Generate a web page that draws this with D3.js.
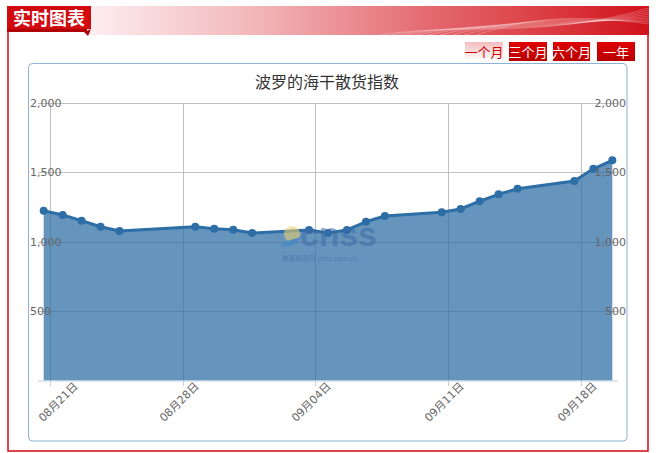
<!DOCTYPE html>
<html><head><meta charset="utf-8">
<script src="https://cdn.jsdelivr.net/npm/d3@7/dist/d3.min.js"></script>
<style>html,body{margin:0;padding:0;background:#fff;overflow:hidden;}svg{display:block;}</style>
</head><body>
<script>
// ---- data ----
const dates = ["2017-08-21","2017-08-22","2017-08-23","2017-08-24","2017-08-25",
  "2017-08-29","2017-08-30","2017-08-31","2017-09-01",
  "2017-09-04","2017-09-05","2017-09-06","2017-09-07","2017-09-08",
  "2017-09-11","2017-09-12","2017-09-13","2017-09-14","2017-09-15",
  "2017-09-18","2017-09-19","2017-09-20"];
const values = [1224,1193,1152,1108,1077,
  1108,1094,1086,1063,
  1085,1063,1085,1144,1186,
  1212,1236,1292,1342,1382,
  1438,1526,1587];
const yTicks = [500,1000,1500,2000];
const xTickDates = ["2017-08-21","2017-08-28","2017-09-04","2017-09-11","2017-09-18"];
const title = "波罗的海干散货指数";
const buttons = ["一个月","三个月","六个月","一年"];
const headerLabel = "实时图表";

const W = 656, H = 453;
const svg = d3.select("body").append("svg").attr("width", W).attr("height", H);
const defs = svg.append("defs");

// ---- header banner ----
const g1 = defs.append("linearGradient").attr("id","ban").attr("x1","0").attr("x2","1").attr("y1","0").attr("y2","0");
[["0%","#fdeef0"],["30%","#f2b6b9"],["60%","#e46c71"],["85%","#d9353b"],["100%","#d0121a"]].forEach(s=>g1.append("stop").attr("offset",s[0]).attr("stop-color",s[1]));
svg.append("rect").attr("x",88).attr("y",6).attr("width",561).attr("height",29).attr("fill","url(#ban)");
const curves = svg.append("g").attr("fill","none").attr("stroke","#fff").attr("stroke-opacity",0.35).attr("stroke-width",0.7);
for (let i=0;i<9;i++){
  curves.append("path").attr("d",`M${380+i*12},35 C${460+i*10},${22-i},${540+i*6},${40-i*3},${649},${8+i*2}`);
}
svg.append("rect").attr("x",7).attr("y",6).attr("width",84).attr("height",23).attr("fill","#d10a10");
svg.append("rect").attr("x",7).attr("y",29).attr("width",80).attr("height",3).attr("fill","#b00008");
svg.append("path").attr("d","M84,32 L91,29 L88,36 Z").attr("fill","#b00008");
svg.append("text").attr("x",49).attr("y",24.5).attr("text-anchor","middle")
  .attr("font-family","'Noto Sans CJK SC'").attr("font-weight","bold").attr("font-size",18)
  .attr("fill","#fff").text(headerLabel);
svg.append("path").attr("d","M8,32 V451 H648 V35").attr("fill","none").attr("stroke","#d10a10").attr("stroke-width",1.5);

// ---- buttons ----
const gb = defs.append("linearGradient").attr("id","btn0").attr("x1","0").attr("x2","0").attr("y1","0").attr("y2","1");
gb.append("stop").attr("offset","0%").attr("stop-color","#f4bcc0");
gb.append("stop").attr("offset","100%").attr("stop-color","#fff");
const gr = defs.append("linearGradient").attr("id","btn1").attr("x1","0").attr("x2","0").attr("y1","0").attr("y2","1");
gr.append("stop").attr("offset","0%").attr("stop-color","#e00000");
gr.append("stop").attr("offset","100%").attr("stop-color","#b80000");
const btnX = [465,509,553,597], btnW=[38,38,37,38];
buttons.forEach((b,i)=>{
  svg.append("rect").attr("x",btnX[i]).attr("y",42).attr("width",btnW[i]).attr("height",19)
    .attr("fill", i===0 ? "url(#btn0)" : "url(#btn1)");
  svg.append("text").attr("x",btnX[i]+btnW[i]/2).attr("y",56.5).attr("text-anchor","middle")
    .attr("font-family","'Noto Sans CJK SC'").attr("font-size",13)
    .attr("fill", i===0 ? "#d00000" : "#fff").text(b);
});

// ---- chart container ----
svg.append("rect").attr("x",28.5).attr("y",63.5).attr("width",598.5).attr("height",377.5).attr("rx",4)
  .attr("fill","#fff").attr("stroke","#8cb2d6").attr("stroke-width",1);
svg.append("text").attr("x",327).attr("y",88).attr("text-anchor","middle")
  .attr("font-family","'Noto Sans CJK SC'").attr("font-size",16).attr("fill","#333").text(title);

// ---- scales ----
const DAY = 86400000;
const parse = s => { const [y,m,d]=s.split("-").map(Number); return Date.UTC(y,m-1,d); };
const pts = dates.map((d,i)=>({t: parse(d) - 8*3600000, v: values[i]}));
const pad = 0.3*DAY;
const x = d3.scaleUtc().domain([d3.min(pts,p=>p.t)-pad, d3.max(pts,p=>p.t)+pad]).range([38,618]);
const y = d3.scaleLinear().domain([0,2000]).range([380.5,103]);
const plotL=38, plotR=618, plotT=103, plotB=380.5;

const font = "'DejaVu Sans','Noto Sans CJK SC'";
const grid = svg.append("g").attr("stroke","#c0c0c0").attr("stroke-width",1);
yTicks.forEach(v=>grid.append("line").attr("x1",plotL).attr("x2",plotR).attr("y1",Math.round(y(v))+0.5).attr("y2",Math.round(y(v))+0.5));
const xt = xTickDates.map(parse);
xt.forEach(t=>grid.append("line").attr("x1",Math.round(x(t))+0.5).attr("x2",Math.round(x(t))+0.5).attr("y1",plotT).attr("y2",plotB));

const area = d3.area().x(p=>x(p.t)).y0(y(0)).y1(p=>y(p.v));
const line = d3.line().x(p=>x(p.t)).y(p=>y(p.v));
svg.append("path").datum(pts).attr("d",area).attr("fill","#2c6ea5").attr("fill-opacity",0.73);
svg.append("path").datum(pts).attr("d",line).attr("fill","none").attr("stroke","#2c6ea5").attr("stroke-width",3).attr("stroke-linejoin","round");
svg.append("g").selectAll("circle").data(pts).join("circle")
  .attr("cx",p=>x(p.t)).attr("cy",p=>y(p.v)).attr("r",4).attr("fill","#2c6ea5");

svg.append("line").attr("x1",plotL).attr("x2",plotR).attr("y1",381).attr("y2",381).attr("stroke","#c0d0e0").attr("stroke-width",1);
const fmt = d3.utcFormat("%m月%d日");
xt.forEach((t,i)=>{
  const tx = Math.round(x(t))+0.5;
  svg.append("line").attr("x1",tx).attr("x2",tx).attr("y1",381).attr("y2",386).attr("stroke","#c0d0e0");
  const ax = tx + 16 + (i===0 ? 12 : 0), ay = 387;
  svg.append("text").attr("transform",`translate(${ax},${ay}) rotate(-45)`).attr("text-anchor","end")
    .attr("font-family",font).attr("font-size",11).attr("fill","#666").text(fmt(new Date(t)));
});
const yf = d3.format(",");
yTicks.forEach(v=>{
  svg.append("text").attr("x",30).attr("y",y(v)+4).attr("text-anchor","start")
    .attr("font-family",font).attr("font-size",11).attr("fill","#666").text(yf(v));
  svg.append("text").attr("x",626).attr("y",y(v)+4).attr("text-anchor","end")
    .attr("font-family",font).attr("font-size",11).attr("fill","#666").text(yf(v));
});

// watermark
const wm = svg.append("g").attr("opacity",0.55);
wm.append("circle").attr("cx",292).attr("cy",234).attr("r",8).attr("fill","#f3d36a");
wm.append("path").attr("d","M280,246 C288,238 296,240 302,236 C298,244 290,248 280,246 Z").attr("fill","#3d86c6");
wm.append("text").attr("x",300).attr("y",246).attr("font-family","'Liberation Sans'").attr("font-weight","bold")
  .attr("font-size",34).attr("textLength",77).attr("fill","#3f6aa6").text("cnss");
wm.append("text").attr("x",281).attr("y",261).attr("font-family","'Noto Sans CJK SC'")
  .attr("font-size",7).attr("fill","#3f6aa6").text("海事服务网 cnss.com.cn");
</script>
</body></html>
